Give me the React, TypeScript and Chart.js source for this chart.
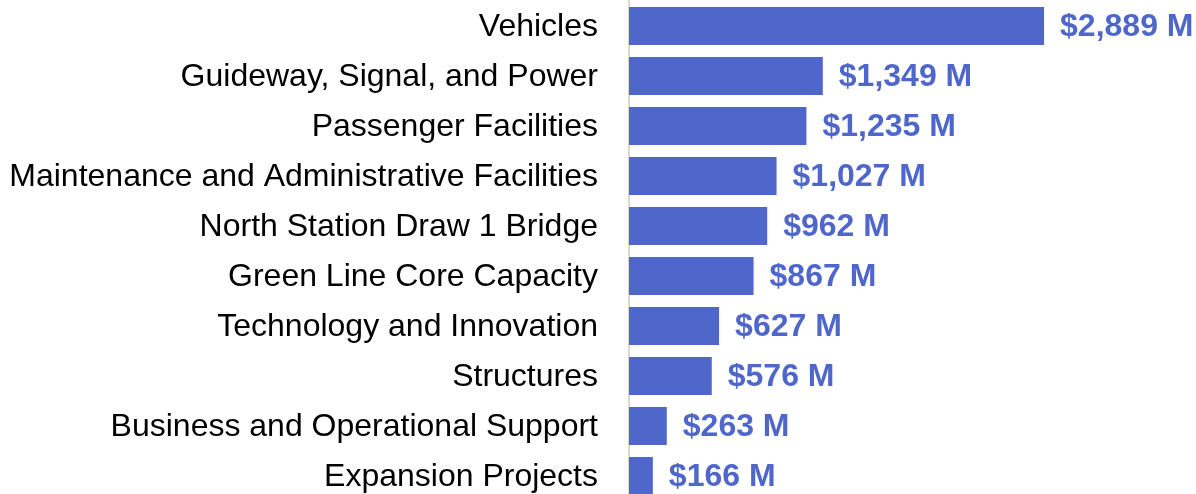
import React, { useEffect, useRef } from "react";
import { Chart, registerables } from "chart.js";

Chart.register(...registerables);

const categories = [
  "Vehicles",
  "Guideway, Signal, and Power",
  "Passenger Facilities",
  "Maintenance and Administrative Facilities",
  "North Station Draw 1 Bridge",
  "Green Line Core Capacity",
  "Technology and Innovation",
  "Structures",
  "Business and Operational Support",
  "Expansion Projects",
];
const values = [2889, 1349, 1235, 1027, 962, 867, 627, 576, 263, 166];

const BAR_COLOR = "#4F67CB";
const FONT = "'Liberation Sans', Arial, sans-serif";

const valueLabels = {
  id: "valueLabels",
  afterDatasetsDraw(chart: any) {
    const ctx = chart.ctx;
    const meta = chart.getDatasetMeta(0);
    ctx.save();
    ctx.font = `bold 32px ${FONT}`;
    ctx.fillStyle = BAR_COLOR;
    ctx.textAlign = "left";
    ctx.textBaseline = "middle";
    meta.data.forEach((bar: any, i: number) => {
      const v = chart.data.datasets[0].data[i] as number;
      ctx.fillText(`$${v.toLocaleString("en-US")} M`, bar.x + 16, bar.y + 1);
    });
    ctx.restore();
  },
};

export default function App() {
  const ref = useRef<HTMLCanvasElement>(null);
  useEffect(() => {
    if (!ref.current) return;
    const chart = new Chart(ref.current, {
      type: "bar",
      data: {
        labels: categories,
        datasets: [
          {
            data: values,
            backgroundColor: BAR_COLOR,
            categoryPercentage: 1,
            barPercentage: 0.76,
          },
        ],
      },
      options: {
        indexAxis: "y",
        responsive: false,
        animation: false,
        layout: { padding: { top: 1, bottom: 1, left: 0, right: 136 } },
        plugins: { legend: { display: false }, tooltip: { enabled: false } },
        scales: {
          x: {
            min: 0,
            max: 3000,
            display: false,
          },
          y: {
            grid: { display: false, drawTicks: false },
            border: { display: true, color: "#dcd8cf", width: 2 },
            ticks: {
              padding: 31,
              labelOffset: 1,
              color: "#000",
              font: { family: FONT, size: 32 },
            },
            afterFit(scale: any) {
              scale.width = 629;
              scale.paddingTop = 0;
              scale.paddingBottom = 0;
            },
          },
        },
      },
      plugins: [valueLabels],
    });
    return () => chart.destroy();
  }, []);
  return (
    <div
      style={{
        position: "fixed",
        top: 0,
        left: 0,
        width: 1196,
        height: 494,
        overflow: "hidden",
        background: "#fff",
      }}
    >
      <canvas ref={ref} width={1196} height={502} style={{ display: "block" }} />
    </div>
  );
}
